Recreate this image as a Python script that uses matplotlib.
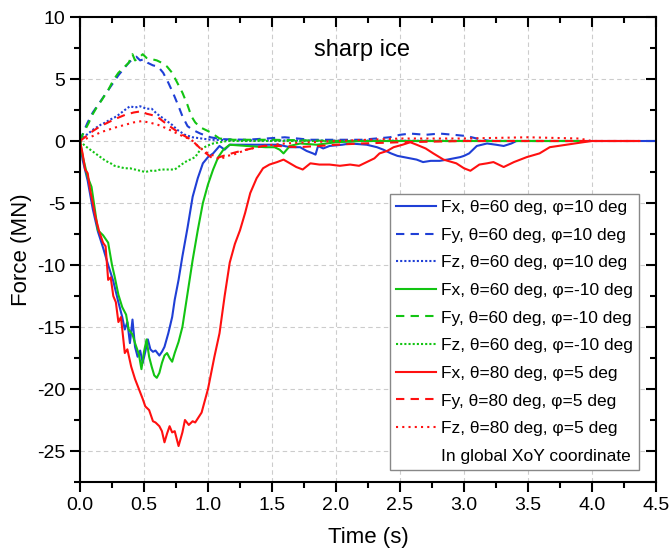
import matplotlib
matplotlib.use('Agg')
import matplotlib.pyplot as plt
from matplotlib.ticker import MultipleLocator

plt.rcParams['font.family'] = ['Liberation Sans', 'DejaVu Sans']
plt.rcParams['axes.unicode_minus'] = False

# theta=60, phi=10
t_bx = [0, 0.02, 0.06, 0.10, 0.14, 0.18, 0.22, 0.26, 0.30, 0.33, 0.35, 0.37, 0.39, 0.41, 0.43, 0.45,
        0.47, 0.49, 0.51, 0.53, 0.55, 0.57, 0.59, 0.62, 0.64, 0.66, 0.69, 0.72, 0.74, 0.77, 0.80, 0.84,
        0.88, 0.92, 0.96, 1.00, 1.04, 1.09, 1.13, 1.17, 1.30, 1.45, 1.55, 1.64, 1.72, 1.77, 1.82, 1.84,
        1.86, 1.90, 1.95, 2.05, 2.11, 2.24, 2.32, 2.37, 2.43, 2.48, 2.53, 2.58, 2.63, 2.68, 2.74, 2.81,
        2.87, 2.92, 2.97, 3.00, 3.04, 3.07, 3.10, 3.18, 3.25, 3.31, 3.37, 3.41, 4.50]
fx_b = [0, -1.5, -3.2, -5.5, -7.3, -8.6, -10.0, -11.3, -13.0, -14.2, -15.2, -14.6, -16.3, -14.4, -16.6, -17.4,
        -16.9, -17.9, -17.0, -16.0, -16.8, -17.0, -16.9, -17.3, -17.0, -16.6, -15.5, -14.2, -12.8, -11.2, -9.3, -7.0,
        -4.5, -3.0, -1.8, -1.3, -1.0, -0.4, -0.7, -0.3, -0.3, -0.3, -0.3, -0.5, -0.5, -0.8, -1.0, -1.1,
        -0.4, -0.6, -0.4, -0.3, -0.2, -0.3, -0.5, -0.7, -1.0, -1.2, -1.3, -1.4, -1.5, -1.7, -1.6, -1.6,
        -1.5, -1.4, -1.3, -1.2, -1.0, -0.7, -0.4, -0.2, -0.3, -0.4, -0.2, 0.0, 0.0]
t_by = [0, 0.03, 0.06, 0.10, 0.14, 0.18, 0.22, 0.26, 0.30, 0.34, 0.38, 0.41, 0.44, 0.47, 0.50, 0.53,
        0.57, 0.61, 0.65, 0.69, 0.73, 0.77, 0.80, 0.84, 0.88, 0.94, 1.02, 1.10, 1.30, 1.60, 1.80, 2.20,
        2.42, 2.50, 2.58, 2.70, 2.81, 2.92, 3.02, 3.10, 3.20, 3.40]
fy_b = [0, 0.8, 1.5, 2.3, 2.9, 3.5, 4.1, 4.7, 5.3, 5.8, 6.3, 6.6, 6.8, 6.5, 6.6, 6.3,
        6.1, 6.0, 5.5, 4.7, 3.8, 2.8, 2.0, 1.2, 0.9, 0.6, 0.3, 0.15, 0.1, 0.3, 0.1, 0.1,
        0.3, 0.5, 0.6, 0.5, 0.6, 0.5, 0.4, 0.2, 0.0, 0.0]
t_bz = [0, 0.04, 0.10, 0.16, 0.20, 0.23, 0.27, 0.30, 0.35, 0.39, 0.43, 0.47, 0.52, 0.56, 0.60, 0.64,
        0.68, 0.72, 0.76, 0.82, 0.88, 0.95, 1.02, 1.30, 3.40]
fz_b = [0, 0.4, 0.9, 1.3, 1.5, 1.7, 1.9, 2.1, 2.5, 2.8, 2.7, 2.8, 2.6, 2.6, 2.2, 1.9,
        1.6, 1.3, 0.9, 0.5, 0.3, 0.2, 0.1, 0.05, 0.0]

# theta=60, phi=-10
t_gx = [0, 0.02, 0.06, 0.09, 0.12, 0.14, 0.18, 0.22, 0.25, 0.27, 0.30, 0.33, 0.36, 0.38, 0.41, 0.43,
        0.46, 0.48, 0.50, 0.52, 0.54, 0.56, 0.58, 0.60, 0.62, 0.64, 0.66, 0.68, 0.70, 0.72, 0.74, 0.77,
        0.80, 0.84, 0.88, 0.92, 0.96, 1.00, 1.04, 1.08, 1.12, 1.17, 1.30, 1.45, 1.52, 1.56, 1.59, 1.64,
        1.72, 1.85, 2.00, 2.20, 3.93]
fx_g = [0, -1.2, -2.9, -3.7, -5.8, -7.2, -7.6, -8.2, -10.0, -10.9, -12.4, -13.4, -14.0, -15.2, -15.6, -16.3,
        -17.2, -18.4, -17.0, -16.0, -17.4, -18.2, -18.9, -19.1, -18.7, -17.9, -17.3, -17.1, -17.5, -17.8, -17.1, -16.2,
        -15.0, -12.3, -9.6, -7.2, -5.0, -3.5, -2.3, -1.3, -0.7, -0.3, -0.4, -0.5, -0.5, -0.7, -1.0, -0.4,
        -0.2, -0.3, -0.1, 0.0, 0.0]
t_gy = [0, 0.02, 0.04, 0.07, 0.09, 0.13, 0.17, 0.20, 0.22, 0.26, 0.30, 0.34, 0.38, 0.41, 0.43, 0.45,
        0.47, 0.49, 0.52, 0.56, 0.60, 0.64, 0.68, 0.72, 0.76, 0.80, 0.84, 0.87, 0.90, 0.94, 1.02, 1.09,
        1.20, 1.50, 2.00, 3.90]
fy_g = [0, 0.5, 0.9, 1.5, 2.0, 2.7, 3.3, 3.8, 4.1, 4.9, 5.5, 5.9, 6.3, 7.0, 6.5, 6.6,
        6.8, 7.0, 6.7, 6.6, 6.5, 6.3, 6.0, 5.5, 4.7, 3.9, 2.9, 2.0, 1.5, 1.1, 0.7, 0.2,
        0.1, 0.1, 0.0, 0.0]
t_gz = [0, 0.04, 0.08, 0.12, 0.16, 0.20, 0.24, 0.27, 0.31, 0.35, 0.39, 0.43, 0.47, 0.51, 0.55, 0.59,
        0.63, 0.66, 0.70, 0.74, 0.78, 0.82, 0.86, 0.90, 0.94, 0.99, 1.04, 1.15, 3.90]
fz_g = [0, -0.4, -0.7, -1.0, -1.3, -1.6, -1.8, -2.0, -2.1, -2.2, -2.2, -2.3, -2.4, -2.5, -2.4, -2.4,
        -2.3, -2.3, -2.3, -2.3, -2.0, -1.7, -1.5, -1.3, -0.7, -0.4, -0.2, 0.0, 0.0]

# theta=80, phi=5
t_rx = [0, 0.02, 0.04, 0.06, 0.08, 0.10, 0.12, 0.15, 0.18, 0.20, 0.22, 0.24, 0.26, 0.28, 0.30, 0.32,
        0.35, 0.37, 0.40, 0.43, 0.46, 0.49, 0.51, 0.54, 0.57, 0.59, 0.62, 0.64, 0.66, 0.68, 0.70, 0.72,
        0.74, 0.77, 0.80, 0.82, 0.85, 0.88, 0.90, 0.95, 1.00, 1.05, 1.09, 1.13, 1.17, 1.21, 1.25, 1.29,
        1.33, 1.38, 1.43, 1.48, 1.54, 1.59, 1.64, 1.69, 1.74, 1.80, 1.87, 1.95, 2.03, 2.11, 2.18, 2.24,
        2.30, 2.34, 2.40, 2.45, 2.52, 2.58, 2.63, 2.70, 2.76, 2.84, 2.94, 3.00, 3.05, 3.12, 3.18, 3.23,
        3.31, 3.35, 3.39, 3.49, 3.59, 3.67, 3.80, 3.93, 4.00, 4.37]
fx_r = [0, -1.0, -2.3, -2.6, -4.0, -5.0, -6.1, -7.3, -8.2, -8.5, -11.2, -11.0, -12.5, -13.0, -14.6, -14.2,
        -17.1, -16.8, -18.2, -19.2, -20.0, -20.8, -21.4, -21.7, -22.6, -22.7, -23.0, -23.4, -24.3, -23.6, -23.0, -23.5,
        -23.4, -24.6, -23.5, -22.5, -22.9, -22.6, -22.7, -21.9, -20.0, -17.4, -15.5, -12.5, -9.8, -8.3, -7.2, -5.8,
        -4.2, -3.0, -2.2, -1.9, -1.7, -1.5, -1.8, -2.1, -2.3, -1.8, -1.9, -1.9, -2.0, -1.9, -2.0, -1.7,
        -1.4, -1.0, -0.8, -0.5, -0.3, -0.1, -0.3, -0.6, -1.0, -1.5, -1.8, -2.2, -2.4, -1.9, -1.8, -1.7,
        -2.1, -1.9, -1.7, -1.3, -1.0, -0.5, -0.3, -0.1, 0.0, 0.0]
t_ry = [0, 0.05, 0.10, 0.16, 0.22, 0.28, 0.35, 0.42, 0.48, 0.52, 0.56, 0.61, 0.66, 0.70, 0.74, 0.80,
        0.87, 0.92, 0.96, 1.01, 1.05, 1.09, 1.15, 1.22, 1.30, 1.43, 1.55, 1.70, 1.87, 2.00, 2.20, 2.50,
        3.00, 4.37]
fy_r = [0, 0.4, 0.8, 1.2, 1.5, 1.8, 2.1, 2.3, 2.4, 2.2, 2.1, 1.9, 1.5, 1.2, 0.9, 0.5,
        0.1, -0.4, -0.8, -1.2, -1.5, -1.3, -1.1, -0.9, -0.7, -0.4, -0.4, -0.5, -0.4, -0.3, -0.2, -0.1,
        0.0, 0.0]
t_rz = [0, 0.05, 0.10, 0.16, 0.22, 0.28, 0.35, 0.42, 0.48, 0.54, 0.61, 0.68, 0.74, 0.80, 0.87, 0.93,
        1.00, 1.05, 1.09, 1.15, 1.20, 1.30, 1.43, 1.60, 2.00, 2.50, 3.00, 3.50, 3.90, 4.00, 4.37]
fz_r = [0, 0.2, 0.4, 0.7, 0.9, 1.1, 1.3, 1.5, 1.6, 1.5, 1.3, 1.0, 0.7, 0.4, 0.1, -0.5,
        -1.0, -1.2, -1.5, -1.2, -1.1, -0.7, -0.4, -0.2, 0.0, 0.2, 0.2, 0.3, 0.2, 0.0, 0.0]

blue = '#1f3fd6'
green = '#12c412'
red = '#ff1010'

fig = plt.figure(figsize=(6.71, 5.55), dpi=100)
ax = fig.add_axes([80/671, 1 - 482/555, 576/671, 465/555])

lw = 1.5
dash = (0, (4, 3))
ax.plot(t_bx, fx_b, color=blue, lw=lw, ls='-', label='Fx, θ=60 deg, φ=10 deg')
ax.plot(t_by, fy_b, color=blue, lw=lw, ls=dash, label='Fy, θ=60 deg, φ=10 deg')
ax.plot(t_bz, fz_b, color=blue, lw=lw, ls=(0, (1, 1)), label='Fz, θ=60 deg, φ=10 deg')
ax.plot(t_gx, fx_g, color=green, lw=lw, ls='-', label='Fx, θ=60 deg, φ=-10 deg')
ax.plot(t_gy, fy_g, color=green, lw=lw, ls=dash, label='Fy, θ=60 deg, φ=-10 deg')
ax.plot(t_gz, fz_g, color=green, lw=lw, ls=(0, (1, 1)), label='Fz, θ=60 deg, φ=-10 deg')
ax.plot(t_rx, fx_r, color=red, lw=lw, ls='-', label='Fx, θ=80 deg, φ=5 deg')
ax.plot(t_ry, fy_r, color=red, lw=lw, ls=dash, label='Fy, θ=80 deg, φ=5 deg')
ax.plot(t_rz, fz_r, color=red, lw=lw, ls=(0, (1, 2)), label='Fz, θ=80 deg, φ=5 deg')
ax.plot([], [], color='none', label='In global XoY coordinate')

ax.set_xlim(0, 4.5)
ax.set_ylim(-27.5, 10)
ax.xaxis.set_major_locator(MultipleLocator(0.5))
ax.xaxis.set_minor_locator(MultipleLocator(0.25))
ax.yaxis.set_major_locator(MultipleLocator(5))
ax.yaxis.set_minor_locator(MultipleLocator(2.5))
ax.grid(True, which='major', color='#cccccc', ls=(0, (4, 3)), lw=0.8)
ax.set_axisbelow(True)

for s in ax.spines.values():
    s.set_linewidth(1.5)
ax.tick_params(which='both', direction='out', width=1.5, labelsize=14)
ax.tick_params(which='major', length=7)
ax.tick_params(which='minor', length=4)
ax.tick_params(which='both', top=True, right=True)
# top/right ticks point inward
for tick in ax.xaxis.get_major_ticks() + ax.xaxis.get_minor_ticks():
    tick.tick2line.set_marker(3)
for tick in ax.yaxis.get_major_ticks() + ax.yaxis.get_minor_ticks():
    tick.tick2line.set_marker(0)
ax.xaxis.set_major_formatter(plt.FormatStrFormatter('%.1f'))

ax.set_xlabel('Time (s)', fontsize=16, labelpad=10)
ax.set_ylabel('Force (MN)', fontsize=16, labelpad=4)

ax.text(0.49, 0.93, 'sharp ice', transform=ax.transAxes, fontsize=17, ha='center', va='center')

leg = ax.legend(loc='lower right', bbox_to_anchor=(0.970, 0.026),
                borderaxespad=0, fontsize=12.5, labelspacing=0.72, handlelength=2.25,
                handletextpad=0.3, borderpad=0.35, fancybox=False, framealpha=1,
                edgecolor='#888888')
leg.get_frame().set_linewidth(1.0)

fig.savefig('out.png', dpi=100)
